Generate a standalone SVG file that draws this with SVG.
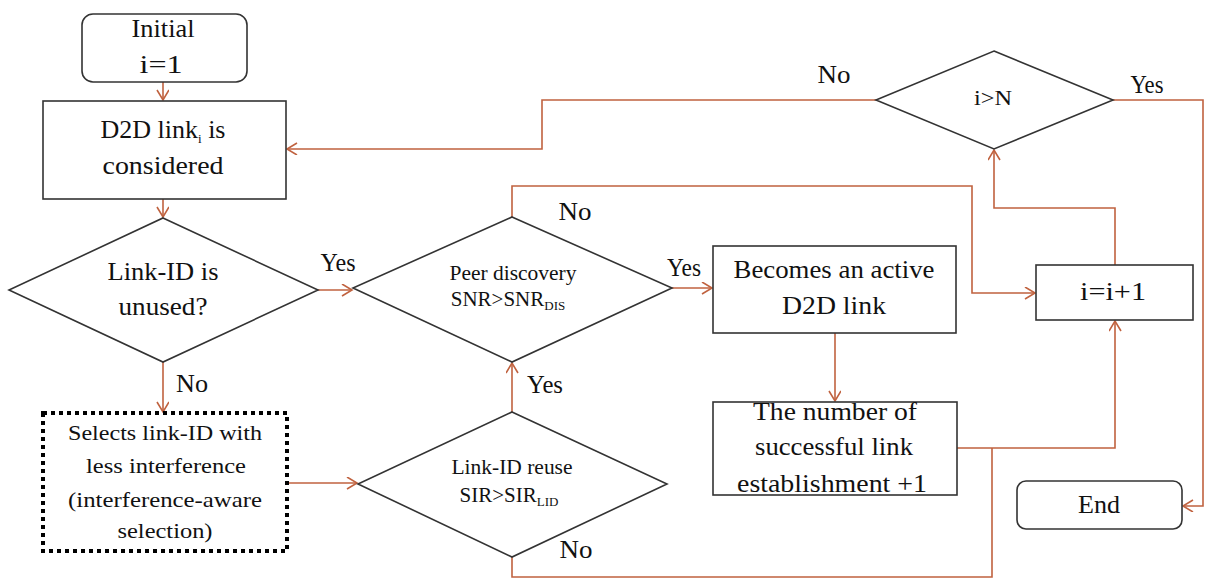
<svg xmlns="http://www.w3.org/2000/svg" width="1206" height="579" viewBox="0 0 1206 579">
  <style>
    .node { fill: #ffffff; stroke: #333333; stroke-width: 1.6; }
    .dotted { fill: #ffffff; stroke: #000000; stroke-width: 4; stroke-dasharray: 4 4; }
    .conn { fill: none; stroke: #c0623f; stroke-width: 1.6; }
    .t { font-family: "Liberation Serif", "DejaVu Serif", serif; font-size: 26px; fill: #111111; text-anchor: middle; }
    .s { font-family: "Liberation Serif", "DejaVu Serif", serif; font-size: 21px; fill: #111111; text-anchor: middle; }
    .sub { font-size: 13px; }
  </style>
  <defs>
    <marker id="arrow" markerUnits="userSpaceOnUse" markerWidth="14" markerHeight="14" refX="11" refY="6" orient="auto">
      <path d="M1,0 L11,6 L1,12" fill="none" stroke="#c0623f" stroke-width="1.6"/>
    </marker>
  </defs>
  <rect width="1206" height="579" fill="#ffffff"/>

  <!-- connectors -->
  <g id="connectors">
    <path class="conn" d="M163,82 V100" marker-end="url(#arrow)"/>
    <path class="conn" d="M163,199 V217" marker-end="url(#arrow)"/>
    <path class="conn" d="M318,290 H352" marker-end="url(#arrow)"/>
    <path class="conn" d="M163,362 V412" marker-end="url(#arrow)"/>
    <path class="conn" d="M287,483 H357" marker-end="url(#arrow)"/>
    <path class="conn" d="M512,412 V363" marker-end="url(#arrow)"/>
    <path class="conn" d="M672,288 H712" marker-end="url(#arrow)"/>
    <path class="conn" d="M835,333 V401" marker-end="url(#arrow)"/>
    <path class="conn" d="M512,217 V186 H972 V293 H1035" marker-end="url(#arrow)"/>
    <path class="conn" d="M512,557 V577 H992 V448"/>
    <path class="conn" d="M957,448 H1115 V321" marker-end="url(#arrow)"/>
    <path class="conn" d="M1115,265 V208 H994 V150" marker-end="url(#arrow)"/>
    <path class="conn" d="M876,100 H542 V149 H287" marker-end="url(#arrow)"/>
    <path class="conn" d="M1113,100 H1203 V506 H1183" marker-end="url(#arrow)"/>
  </g>

  <!-- start -->
  <g id="initial">
    <rect class="node" x="82" y="14" width="165" height="68" rx="11"/>
    <text class="t" x="163" y="37" textLength="63" lengthAdjust="spacingAndGlyphs">Initial</text>
    <text class="t" x="161" y="73" textLength="43" lengthAdjust="spacingAndGlyphs">i=1</text>
  </g>

  <g id="consider-link">
    <rect class="node" x="43" y="101" width="243" height="98"/>
    <text class="t" x="163" y="138">D2D link<tspan class="sub" dy="5">i</tspan><tspan dy="-5"> is</tspan></text>
    <text class="t" x="163" y="174" textLength="121" lengthAdjust="spacingAndGlyphs">considered</text>
  </g>

  <g id="unused-check">
    <polygon class="node" points="163,218 318,290 163,362 9,290"/>
    <text class="t" x="163" y="280" textLength="111" lengthAdjust="spacingAndGlyphs">Link-ID is</text>
    <text class="t" x="163" y="315" textLength="89" lengthAdjust="spacingAndGlyphs">unused?</text>
  </g>

  <g id="select-link-id">
    <rect class="dotted" x="43" y="413" width="244" height="138"/>
    <text class="s" x="165" y="440" textLength="194" lengthAdjust="spacingAndGlyphs">Selects link-ID with</text>
    <text class="s" x="166" y="473" textLength="160" lengthAdjust="spacingAndGlyphs">less interference</text>
    <text class="s" x="165" y="507" textLength="194" lengthAdjust="spacingAndGlyphs">(interference-aware</text>
    <text class="s" x="165" y="538" textLength="95" lengthAdjust="spacingAndGlyphs">selection)</text>
  </g>

  <g id="peer-discovery">
    <polygon class="node" points="512,217 672,288 512,362 353,288"/>
    <text class="s" x="513" y="280" textLength="127" lengthAdjust="spacingAndGlyphs">Peer discovery</text>
    <text class="s" x="508" y="306">SNR&gt;SNR<tspan class="sub" dy="4">DIS</tspan></text>
  </g>

  <g id="link-id-reuse">
    <polygon class="node" points="512,412 667,484 512,557 358,484"/>
    <text class="s" x="512" y="474" textLength="121" lengthAdjust="spacingAndGlyphs">Link-ID reuse</text>
    <text class="s" x="509" y="502">SIR&gt;SIR<tspan class="sub" dy="4">LID</tspan></text>
  </g>

  <g id="active-link">
    <rect class="node" x="713" y="246" width="243" height="87"/>
    <text class="t" x="834" y="278" textLength="201" lengthAdjust="spacingAndGlyphs">Becomes an active</text>
    <text class="t" x="834" y="314" textLength="104" lengthAdjust="spacingAndGlyphs">D2D link</text>
  </g>

  <g id="count-success">
    <rect class="node" x="713" y="402" width="244" height="93"/>
    <text class="t" x="835" y="420" textLength="164" lengthAdjust="spacingAndGlyphs">The number of</text>
    <text class="t" x="834" y="455" textLength="158" lengthAdjust="spacingAndGlyphs">successful link</text>
    <text class="t" x="832" y="492" textLength="190" lengthAdjust="spacingAndGlyphs">establishment +1</text>
  </g>

  <g id="increment">
    <rect class="node" x="1036" y="265" width="157" height="55"/>
    <text class="t" x="1113" y="300" textLength="66" lengthAdjust="spacingAndGlyphs">i=i+1</text>
  </g>

  <g id="loop-check">
    <polygon class="node" points="994,51 1113,100 994,149 876,100"/>
    <text class="s" x="993" y="105" font-size="18" textLength="38" lengthAdjust="spacingAndGlyphs">i&gt;N</text>
  </g>

  <g id="end">
    <rect class="node" x="1017" y="481" width="165" height="48" rx="9"/>
    <text class="t" x="1099" y="513" textLength="42" lengthAdjust="spacingAndGlyphs">End</text>
  </g>

  <!-- branch labels -->
  <g id="labels">
    <text class="t" x="338" y="271" textLength="35" lengthAdjust="spacingAndGlyphs">Yes</text>
    <text class="t" x="192" y="392" textLength="32" lengthAdjust="spacingAndGlyphs">No</text>
    <text class="t" x="575" y="220" textLength="33" lengthAdjust="spacingAndGlyphs">No</text>
    <text class="t" x="684" y="276" textLength="34" lengthAdjust="spacingAndGlyphs">Yes</text>
    <text class="t" x="545" y="393" textLength="36" lengthAdjust="spacingAndGlyphs">Yes</text>
    <text class="t" x="576" y="558" textLength="33" lengthAdjust="spacingAndGlyphs">No</text>
    <text class="t" x="834" y="83" textLength="33" lengthAdjust="spacingAndGlyphs">No</text>
    <text class="t" x="1147" y="93" textLength="33" lengthAdjust="spacingAndGlyphs">Yes</text>
  </g>
</svg>
